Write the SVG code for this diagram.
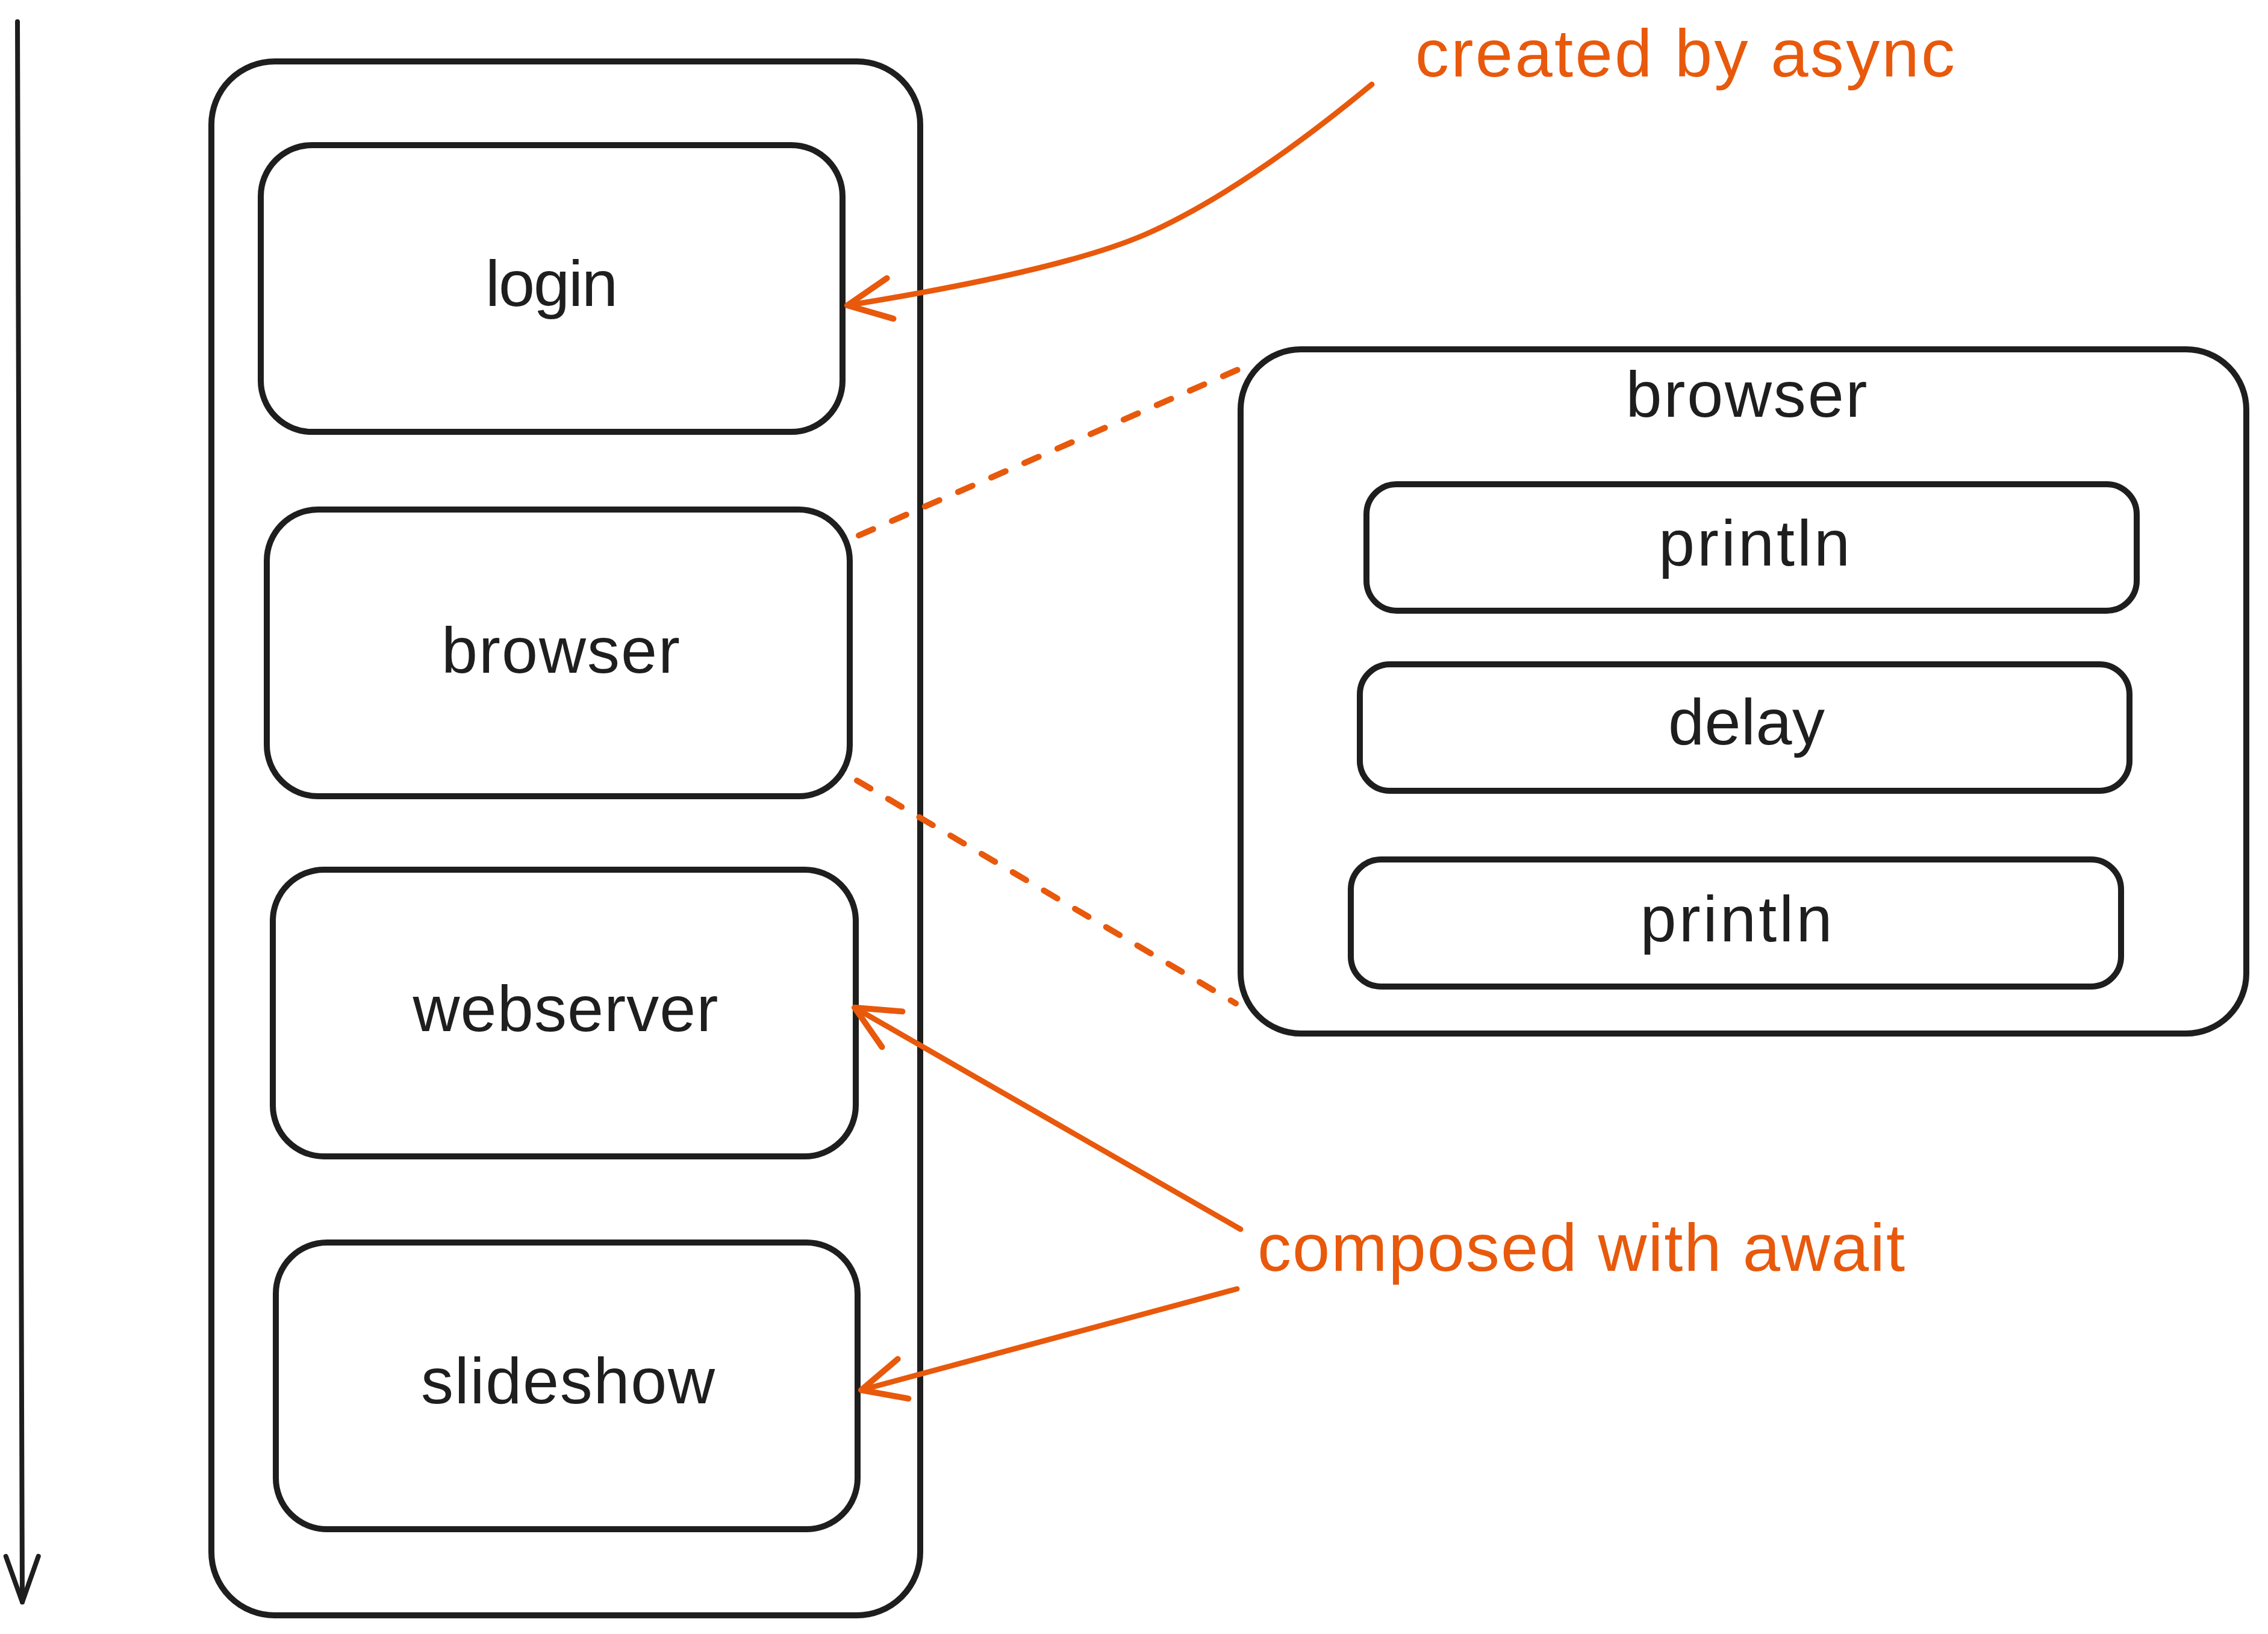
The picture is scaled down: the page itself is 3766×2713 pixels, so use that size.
<svg xmlns="http://www.w3.org/2000/svg" width="3766" height="2713" viewBox="0 0 3766 2713">
<style>
.box{fill:none;stroke:#1e1e1e;stroke-width:10}
.lbl{font-family:"Liberation Sans",Arial,sans-serif;font-size:108px;fill:#1e1e1e;text-anchor:middle}
.note{font-family:"Liberation Sans",Arial,sans-serif;font-size:112px;fill:#e8590c}
.orange{fill:none;stroke:#e8590c;stroke-width:9;stroke-linecap:round}
.dash{fill:none;stroke:#e8590c;stroke-width:10;stroke-linecap:round;stroke-dasharray:26 34}
</style>
<defs>
<marker id="ao" markerUnits="userSpaceOnUse" viewBox="-90 -50 100 100" refX="0" refY="0" markerWidth="100" markerHeight="100" orient="auto">
<path d="M -72 -34 L 0 0 L -72 34" fill="none" stroke="#e8590c" stroke-width="10" stroke-linecap="round" stroke-linejoin="round"/>
</marker>
<marker id="ak" markerUnits="userSpaceOnUse" viewBox="-90 -50 100 100" refX="0" refY="0" markerWidth="100" markerHeight="100" orient="auto">
<path d="M -76 -27 L 0 0 L -76 27" fill="none" stroke="#1e1e1e" stroke-width="8" stroke-linecap="round" stroke-linejoin="round"/>
</marker>
</defs>
<rect width="3766" height="2713" fill="#ffffff"/>
<g id="timeline">
<line x1="29" y1="36" x2="37" y2="2660" stroke="#1e1e1e" stroke-width="8" stroke-linecap="round" marker-end="url(#ak)"/>
</g>
<g id="container-left">
<rect class="box" x="351" y="102" width="1177" height="2580" rx="105"/>
</g>
<g id="node-login">
<rect class="box" x="433" y="241" width="966" height="476" rx="85"/>
<text class="lbl" x="916" y="508" textLength="220">login</text>
</g>
<g id="node-browser">
<rect class="box" x="443" y="846" width="968" height="476" rx="85"/>
<text class="lbl" x="931" y="1117" textLength="396">browser</text>
</g>
<g id="node-webserver">
<rect class="box" x="453" y="1444" width="968" height="476" rx="85"/>
<text class="lbl" x="939" y="1712" textLength="507">webserver</text>
</g>
<g id="node-slideshow">
<rect class="box" x="458" y="2063" width="966" height="476" rx="85"/>
<text class="lbl" x="943" y="2330" textLength="488">slideshow</text>
</g>
<g id="container-browser">
<rect class="box" x="2060" y="580" width="1670" height="1136" rx="100"/>
<text class="lbl" x="2900" y="692" textLength="401">browser</text>
</g>
<g id="node-println1">
<rect class="box" x="2269" y="804" width="1279" height="210" rx="50"/>
<text class="lbl" x="2913" y="939" textLength="318">println</text>
</g>
<g id="node-delay">
<rect class="box" x="2258" y="1103" width="1278" height="210" rx="50"/>
<text class="lbl" x="2900" y="1236" textLength="260">delay</text>
</g>
<g id="node-println2">
<rect class="box" x="2243" y="1427" width="1279" height="211" rx="50"/>
<text class="lbl" x="2883" y="1563" textLength="319">println</text>
</g>
<g id="label-created">
<text class="note" x="2350" y="127" textLength="896">created by async</text>
</g>
<g id="label-composed">
<text class="note" x="2088" y="2110" textLength="1075">composed with await</text>
</g>
<g id="connectors">
<path class="orange" d="M 2278 140 Q 2060 320 1900 390 Q 1760 450 1407 507" marker-end="url(#ao)"/>
<line class="orange" x1="2060" y1="2041" x2="1419" y2="1673" marker-end="url(#ao)"/>
<line class="orange" x1="2054" y1="2140" x2="1430" y2="2308" marker-end="url(#ao)"/>
<line class="dash" x1="1426" y1="889" x2="2055" y2="614"/>
<line class="dash" x1="1423" y1="1296" x2="2052" y2="1666"/>
</g>
</svg>
